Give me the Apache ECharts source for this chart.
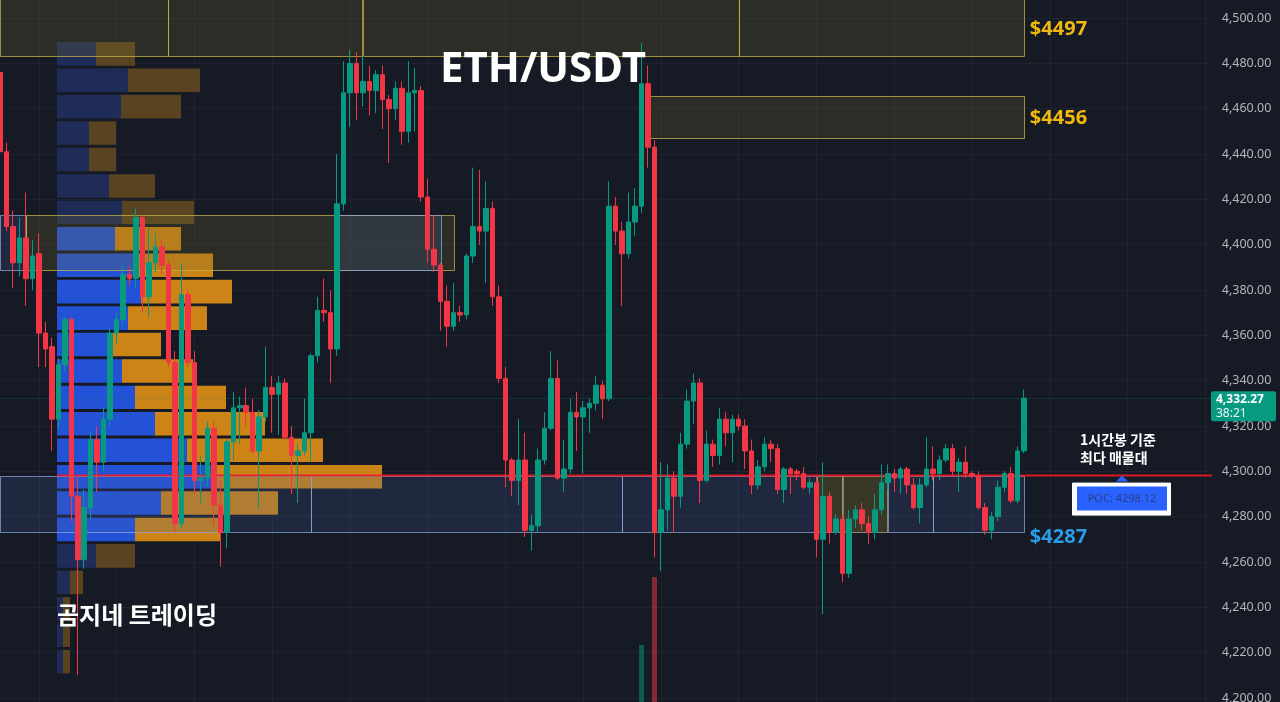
<!DOCTYPE html>
<html>
<head>
<meta charset="utf-8">
<title>ETH/USDT</title>
<script src="https://cdn.jsdelivr.net/npm/echarts@6.0.0/dist/echarts.min.js"></script>
<style>
  html, body { margin: 0; padding: 0; background: #161a25; }
  #chart { width: 1280px; height: 702px; }
</style>
</head>
<body>
<div id="chart"></div>
<script>
// ---- hourly candles (ETH/USDT) ----
const opens = [
  4476,4441,4408,4392,4403,4385,4396,4361,4355,4323,4347,4367,4289,4261,4284,4314,4304,4323,4361,4367,
  4387,4385,4412,4377,4392,4399,4391,4348,4277,4378,4348,4296,4297,4319,4285,4273,4313,4328,4329,4326,
  4309,4324,4337,4334,4339,4315,4307,4309,4317,4351,4371,4370,4354,4418,4467,4480,4467,4472,4468,4475,
  4464,4460,4469,4450,4467,4468,4421,4398,4391,4375,4364,4370,4369,4395,4408,4406,4416,4377,4341,4305,
  4296,4305,4274,4276,4305,4319,4341,4297,4301,4326,4324,4328,4330,4338,4332,4417,4406,4396,4410,4417,
  4471,4443,4273,4283,4297,4289,4312,4331,4339,4296,4312,4307,4323,4317,4323,4320,4309,4294,4302,4312,
  4310,4292,4301,4300,4299,4293,4295,4270,4289,4273,4279,4255,4279,4283,4277,4273,4283,4295,4299,4297,
  4301,4294,4284,4294,4301,4299,4305,4310,4300,4304,4299,4298,4284,4274,4280,4293,4299,4287,4309
];
const closes = [
  4441,4408,4392,4403,4385,4395,4361,4354,4323,4347,4367,4289,4261,4284,4314,4304,4323,4361,4367,4387,
  4385,4412,4377,4392,4399,4391,4348,4277,4378,4348,4296,4297,4319,4285,4273,4313,4328,4329,4326,4309,
  4324,4337,4334,4339,4315,4307,4309,4317,4351,4371,4370,4354,4418,4467,4480,4467,4472,4468,4475,4464,
  4460,4469,4450,4467,4468,4421,4398,4391,4375,4364,4370,4369,4395,4408,4406,4416,4377,4341,4305,4296,
  4305,4274,4276,4305,4319,4341,4297,4301,4326,4324,4328,4330,4338,4332,4417,4406,4396,4410,4417,4471,
  4443,4273,4283,4297,4289,4312,4331,4339,4296,4312,4307,4323,4317,4323,4320,4309,4294,4302,4312,4310,
  4292,4301,4299,4299,4293,4295,4270,4289,4273,4279,4255,4279,4283,4277,4273,4283,4295,4299,4297,4301,
  4294,4284,4294,4301,4299,4305,4310,4300,4304,4299,4298,4284,4274,4280,4293,4299,4287,4309,4332.27
];
const lows = [
  4440,4406,4381,4386,4373,4380,4346,4346,4309,4319,4344,4278,4210,4257,4279,4291,4300,4320,4356,4364,
  4382,4381,4370,4368,4388,4387,4346,4273,4275,4346,4290,4286,4293,4276,4258,4266,4305,4312,4320,4308,
  4283,4322,4317,4316,4314,4290,4286,4307,4304,4348,4366,4339,4351,4415,4452,4455,4461,4457,4458,4451,
  4436,4455,4444,4445,4450,4419,4392,4388,4362,4355,4362,4366,4367,4392,4400,4383,4373,4339,4293,4289,
  4285,4271,4265,4273,4303,4318,4296,4291,4299,4309,4299,4317,4327,4323,4331,4400,4373,4394,4404,4414,
  4434,4262,4256,4274,4273,4284,4310,4321,4286,4295,4302,4303,4311,4304,4318,4301,4290,4292,4300,4304,
  4290,4286,4290,4296,4292,4290,4262,4237,4268,4272,4251,4253,4275,4274,4268,4270,4281,4292,4291,4290,
  4290,4283,4277,4293,4296,4296,4304,4298,4291,4297,4297,4283,4272,4270,4278,4291,4286,4286,4308
];
const highs = [
  4477,4445,4415,4412,4423,4402,4405,4366,4359,4350,4368,4368,4297,4292,4318,4320,4328,4363,4370,4391,
  4390,4416,4413,4407,4405,4402,4393,4353,4392,4380,4353,4307,4322,4322,4296,4314,4335,4333,4337,4332,
  4327,4355,4342,4342,4341,4320,4312,4332,4352,4377,4385,4380,4440,4481,4486,4485,4483,4479,4477,4479,
  4466,4472,4472,4481,4478,4470,4429,4413,4392,4382,4383,4373,4396,4434,4433,4428,4419,4382,4346,4306,
  4323,4317,4281,4310,4326,4353,4349,4314,4332,4335,4331,4332,4342,4340,4428,4421,4410,4423,4425,4489,
  4479,4446,4304,4303,4300,4317,4336,4343,4341,4318,4314,4328,4326,4325,4325,4323,4314,4305,4315,4314,
  4312,4302,4302,4301,4302,4297,4297,4304,4291,4281,4281,4283,4285,4286,4280,4290,4303,4303,4301,4302,
  4302,4297,4297,4315,4311,4307,4312,4312,4306,4311,4300,4300,4286,4282,4296,4300,4302,4311,4336
];
// volume spikes tall enough to rise into view: [candle index, volume]
const volumeSpikes = [[99, 15700], [101, 22500]];

// ---- session volume profile (top bin first) ----
const profileEdges = [
  4489.4,4477.7,4466.1,4454.4,4442.8,4431.1,4419.4,4407.8,4396.1,4384.5,4372.8,4361.1,
  4349.5,4337.8,4326.2,4314.5,4302.8,4291.2,4279.5,4267.9,4256.2,4244.5,4232.9,4221.2,4209.6
];
const profileBuy  = [3.9,7.1,6.4,3.2,3.2,5.2,6.5,5.8,7.6,8.4,7.1,5.5,6.5,7.8,9.8,13.0,16.0,10.4,7.8,3.9,1.3,0.6,0.6,0.6];
const profileSell = [3.9,7.2,6.0,2.7,2.7,4.6,7.2,6.6,8.0,9.1,7.9,4.9,7.1,9.1,11.0,13.6,16.5,11.7,8.5,3.9,1.3,0.7,0.7,0.7];
const valueAreaHigh = 4407.8;
const valueAreaLow = 4267.9;
const pocPrice = 4298.12;

// ---- zones: [fromCandle, toCandle, low, high] ; tone 0 supply, 1 demand, 2 overlap ----
const zoneBoxes = [
  [0, 26, 4483.2, 4511], [26, 56, 4483.2, 4511], [56, 114, 4483.2, 4511], [114, 158, 4483.2, 4511],
  [100, 158, 4447, 4465.5],
  [0, 4, 4388.8, 4413.1], [4, 70, 4388.8, 4413.1], [52, 68, 4388.8, 4413.1],
  [0, 48, 4273.2, 4298.12], [48, 96, 4273.2, 4298.12], [96, 126, 4273.2, 4298.12],
  [126, 130, 4273.2, 4298.12], [130, 137, 4273.2, 4298.12], [137, 144, 4273.2, 4298.12], [144, 158, 4273.2, 4298.12]
];
const zoneTones = [0,0,0,0, 0, 1,0,1, 1,1,1,2,2,1,1];
const zoneLevels = [4497, 4456, 4287];

const yTicks = { min: 4180, max: 4520, step: 20 };
const slotCount = 188;           // candles plus empty space to the right
const pocLineStart = 8.8;        // profile origin, in candle slots
const countdown = '38:21';

// ---------------------------------------------------------------
const categories = Array.from({ length: slotCount }, (_, i) => String(i));
const candleData = opens.map((o, i) => [o, closes[i], lows[i], highs[i]]);
const lastIdx = closes.length - 1;
const lastClose = closes[lastIdx];

const fmtPrice = v => {
  const [a, b] = Number(v).toFixed(2).split('.');
  return a.replace(/\B(?=(\d{3})+$)/g, ',') + '.' + b;
};

const toneStyle = [
  { fill: 'rgba(120,110,45,0.24)', stroke: 'rgba(200,180,70,0.75)' },
  { fill: 'rgba(70,100,165,0.20)', stroke: 'rgba(140,165,215,0.75)' },
  { fill: 'rgba(120,110,45,0.36)', stroke: 'rgba(200,200,190,0.6)' }
];

function slotX(api, idx) {
  const a = api.coord([0, 4300])[0];
  const b = api.coord([1, 4300])[0];
  return a + idx * (b - a);
}

const chart = echarts.init(document.getElementById('chart'), null, { renderer: 'canvas' });

const option = {
  backgroundColor: '#161a25',
  animation: false,
  textStyle: { fontFamily: 'Noto Sans' },
  grid: [
    { left: 0, right: 68.2, top: -27.3, bottom: -41.3, containLabel: false, outerBoundsMode: 'none' },
    { left: 0, right: 68.2, top: 402, bottom: -100, containLabel: false, outerBoundsMode: 'none' },
    { left: 57, width: 400, top: -27.3, bottom: -41.3, containLabel: false, outerBoundsMode: 'none' }
  ],
  xAxis: [
    {
      type: 'category', gridIndex: 0, data: categories, boundaryGap: false,
      axisLine: { show: false }, axisTick: { show: false }, axisLabel: { show: false },
      splitLine: { show: true, interval: i => i % 12 === 6, lineStyle: { color: '#1f2330', width: 1 } }
    },
    { type: 'category', gridIndex: 1, data: categories, boundaryGap: false, show: false },
    { type: 'value', gridIndex: 2, min: 0, max: 40, show: false }
  ],
  yAxis: [
    {
      type: 'value', gridIndex: 0, position: 'right',
      min: yTicks.min, max: yTicks.max, interval: yTicks.step,
      axisLine: { show: false }, axisTick: { show: false },
      splitLine: { show: true, lineStyle: { color: '#1f2330', width: 1 } },
      axisLabel: { color: '#b2b5be', fontSize: 12.5, margin: 10, fontFamily: 'Noto Sans', formatter: fmtPrice }
    },
    { type: 'value', gridIndex: 1, min: 0, max: 40000, show: false },
    { type: 'value', gridIndex: 2, min: yTicks.min, max: yTicks.max, show: false }
  ],
  series: [
    {
      name: 'profile', type: 'custom', xAxisIndex: 2, yAxisIndex: 2, z: 1, silent: true,
      encode: { x: 2, y: 0 },
      data: profileBuy.map((b, k) => [profileEdges[k + 1], profileEdges[k], b, profileSell[k]]),
      renderItem: (params, api) => {
        const lo = api.value(0), hi = api.value(1), buy = api.value(2), sell = api.value(3);
        const yTop = api.coord([0, hi])[1];
        const yBot = api.coord([0, lo])[1];
        const h = (yBot - yTop) * 0.89;
        const x0 = api.coord([0, lo])[0];
        const x1 = api.coord([buy, lo])[0];
        const x2 = api.coord([buy + sell, lo])[0];
        const inVA = lo >= valueAreaLow - 0.05 && hi <= valueAreaHigh + 0.05;
        return {
          type: 'group',
          children: [
            { type: 'rect', shape: { x: x0, y: yTop, width: x1 - x0, height: h },
              style: { fill: inVA ? '#2452d6' : '#1f2c58' } },
            { type: 'rect', shape: { x: x1, y: yTop, width: x2 - x1, height: h },
              style: { fill: inVA ? '#cc8417' : '#5a4320' } }
          ]
        };
      }
    },
    {
      name: 'zones', type: 'custom', xAxisIndex: 0, yAxisIndex: 0, z: 2, silent: true,
      encode: { x: 4, y: 2 },
      data: zoneBoxes.map((z, k) => [z[0], z[1], z[2], z[3], zoneTones[k]]),
      renderItem: (params, api) => {
        const xa = slotX(api, api.value(0));
        const xb = slotX(api, api.value(1));
        const yt = api.coord([0, api.value(3)])[1];
        const yb = api.coord([0, api.value(2)])[1];
        const st = toneStyle[api.value(4)];
        return {
          type: 'rect',
          shape: { x: Math.round(xa) + 0.5, y: Math.round(yt) + 0.5, width: Math.round(xb - xa), height: Math.round(yb - yt) },
          style: { fill: st.fill, stroke: st.stroke, lineWidth: 1 }
        };
      }
    },
    {
      name: 'POC', type: 'custom', xAxisIndex: 0, yAxisIndex: 0, z: 3, silent: true,
      encode: { x: 0, y: 1 },
      data: [[slotCount - 1, pocPrice]],
      renderItem: (params, api) => {
        const y = api.coord([0, api.value(1)])[1];
        return {
          type: 'line',
          shape: { x1: slotX(api, pocLineStart), y1: y, x2: slotX(api, api.value(0)), y2: y },
          style: { stroke: 'rgba(235,25,35,0.92)', lineWidth: 2 }
        };
      }
    },
    {
      name: 'volume', type: 'bar', xAxisIndex: 1, yAxisIndex: 1, z: 2, barWidth: 5, silent: true,
      data: volumeSpikes.map(([i, v]) => ({
        value: [i, v],
        itemStyle: { color: closes[i] >= opens[i] ? 'rgba(8,153,129,0.5)' : 'rgba(242,54,69,0.5)' }
      }))
    },
    {
      name: 'ETH/USDT', type: 'candlestick', xAxisIndex: 0, yAxisIndex: 0, z: 5, barWidth: 5,
      data: candleData,
      itemStyle: {
        color: '#089981', color0: '#f23645',
        borderColor: '#089981', borderColor0: '#f23645', borderWidth: 1
      },
      markLine: {
        silent: true, symbol: ['none', 'none'], label: { show: false },
        lineStyle: { type: 'dotted', color: 'rgba(8,153,129,0.4)', width: 1 },
        data: [{ yAxis: lastClose }]
      }
    }
  ]
};

chart.setOption(option);

// ---- annotations anchored to price/candle coordinates ----
const px = (i, p) => chart.convertToPixel({ xAxisIndex: 0, yAxisIndex: 0 }, [i, p]);
const zoneRight = px(158, 4300)[0];
const pocY = px(0, pocPrice)[1];
const lastY = px(lastIdx, lastClose)[1];
const demandBottom = px(0, zoneBoxes[8][2])[1];
const boxCx = 1122;

chart.setOption({
  graphic: [
    { type: 'text', z: 50, left: 440, top: 49,
      style: { text: 'ETH/USDT', fill: '#ffffff', font: 'bold 42px "Noto Sans"' } },
    { type: 'text', z: 50, left: 57, top: 603,
      style: { text: '곰지네 트레이딩', fill: '#ffffff', font: 'bold 24px "Noto Sans CJK KR"' } },

    { type: 'text', z: 50, x: zoneRight + 6, y: px(0, zoneLevels[0])[1] + 4,
      style: { text: '$' + zoneLevels[0], fill: '#f0b90b', font: 'bold 20px "Noto Sans"', verticalAlign: 'middle' } },
    { type: 'text', z: 50, x: zoneRight + 6, y: px(0, zoneLevels[1])[1] + 1,
      style: { text: '$' + zoneLevels[1], fill: '#f0b90b', font: 'bold 20px "Noto Sans"', verticalAlign: 'middle' } },
    { type: 'text', z: 50, x: zoneRight + 6, y: demandBottom + 5,
      style: { text: '$' + zoneLevels[2], fill: '#2a9ce8', font: 'bold 20px "Noto Sans"', verticalAlign: 'middle' } },

    { type: 'text', z: 50, x: 1080, y: pocY - 36,
      style: { text: '1시간봉 기준', fill: '#ffffff', font: 'bold 14px "Noto Sans CJK KR"', verticalAlign: 'middle' } },
    { type: 'text', z: 50, x: 1080, y: pocY - 18,
      style: { text: '최다 매물대', fill: '#ffffff', font: 'bold 14px "Noto Sans CJK KR"', verticalAlign: 'middle' } },

    { type: 'polygon', z: 50, shape: { points: [[boxCx - 6, pocY + 6], [boxCx, pocY], [boxCx + 6, pocY + 6]] },
      style: { fill: '#2962ff' } },
    { type: 'rect', z: 50, shape: { x: boxCx - 49.5, y: pocY + 7.5, width: 98, height: 32 },
      style: { fill: '#ffffff', stroke: '#ffffff', lineWidth: 1 } },
    { type: 'rect', z: 51, shape: { x: boxCx - 45, y: pocY + 11, width: 90, height: 24 },
      style: { fill: '#2962ff' } },
    { type: 'text', z: 52, x: boxCx, y: pocY + 23,
      style: { text: 'POC: ' + pocPrice.toFixed(2), fill: '#2d3f7c', font: '11px "Noto Sans"', align: 'center', verticalAlign: 'middle' } },

    { type: 'rect', z: 60, shape: { x: 1211, y: lastY - 7, width: 65, height: 30, r: 2 },
      style: { fill: '#089981' } },
    { type: 'text', z: 61, x: 1216, y: lastY + 1,
      style: { text: fmtPrice(lastClose), fill: '#ffffff', font: 'bold 12px "Noto Sans"', verticalAlign: 'middle' } },
    { type: 'text', z: 61, x: 1216, y: lastY + 15,
      style: { text: countdown, fill: '#e8f5f2', font: '12px "Noto Sans"', verticalAlign: 'middle' } }
  ]
});
</script>
</body>
</html>
